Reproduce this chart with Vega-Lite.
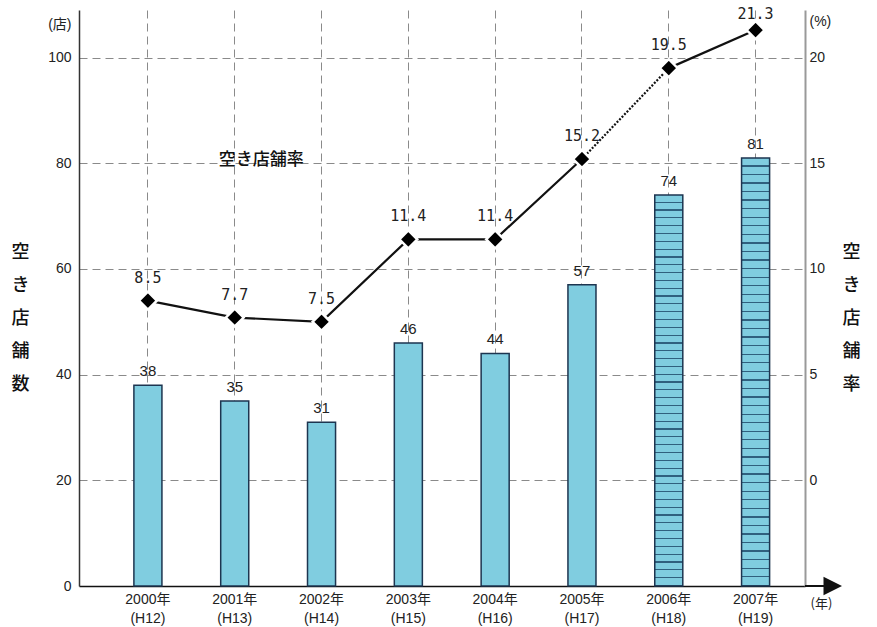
{
  "$schema": "https://vega.github.io/schema/vega-lite/v6.json",
  "width": 726,
  "height": 576,
  "autosize": {"type": "none"},
  "padding": {"left": 79, "top": 10, "right": 72, "bottom": 41},
  "background": "white",
  "config": {"view": {"stroke": null}, "font": "Liberation Sans, Noto Sans CJK JP"},
  "data": {"values": [
    {"period": "2000年|(H12)", "year": 2000, "stores": 38, "rate": 8.5},
    {"period": "2001年|(H13)", "year": 2001, "stores": 35, "rate": 7.7},
    {"period": "2002年|(H14)", "year": 2002, "stores": 31, "rate": 7.5},
    {"period": "2003年|(H15)", "year": 2003, "stores": 46, "rate": 11.4},
    {"period": "2004年|(H16)", "year": 2004, "stores": 44, "rate": 11.4},
    {"period": "2005年|(H17)", "year": 2005, "stores": 57, "rate": 15.2},
    {"period": "2006年|(H18)", "year": 2006, "stores": 74, "rate": 19.5},
    {"period": "2007年|(H19)", "year": 2007, "stores": 81, "rate": 21.3}
  ]},
  "encoding": {
    "x": {
      "field": "period", "type": "nominal", "sort": null,
      "scale": {"type": "band", "paddingInner": 0.677, "paddingOuter": 0.52, "align": 0.608},
      "axis": {
        "labelExpr": "split(datum.label, '|')",
        "labelAngle": 0, "labelLineHeight": 19, "labelPadding": 6,
        "labelFontSize": 14, "labelColor": "#222", "labelFont": "Liberation Sans, Noto Sans CJK JP",
        "bandPosition": 0.5, "ticks": false,
        "domainColor": "#111", "domainWidth": 1.5,
        "grid": true, "gridDash": [8, 5], "gridColor": "#8a8a8a", "gridWidth": 1,
        "title": "(年)", "titleX": 731, "titleY": 17, "titleAlign": "left", "titleBaseline": "middle",
        "titleFontSize": 13, "titleFontWeight": "normal", "titleColor": "#222", "titleFont": "Noto Sans CJK JP"
      }
    }
  },
  "layer": [
    {
      "encoding": {
        "y": {
          "field": "stores", "type": "quantitative",
          "scale": {"domain": [0, 109], "nice": false, "zero": true},
          "axis": {
            "orient": "left",
            "values": [0, 20, 40, 60, 80, 100, 106.3],
            "labelExpr": "datum.value > 101 ? '(店)' : datum.label",
            "labelOverlap": false,
            "grid": true, "gridDash": [8, 5], "gridColor": "#8a8a8a",
            "gridOpacity": {"condition": {"test": "datum.value > 0 && datum.value <= 100", "value": 1}, "value": 0},
            "ticks": false, "domainColor": "#333", "domainWidth": 1.5,
            "labelPadding": 8, "labelFontSize": 14, "labelColor": "#222", "labelFont": "Liberation Sans, Noto Sans CJK JP",
            "title": ["空", "き", "店", "舗", "数"],
            "titleAngle": 0, "titleX": -59, "titleY": 242, "titleBaseline": "middle", "titleAlign": "center",
            "titleLineHeight": 33, "titleFontSize": 18, "titleFont": "Noto Sans CJK JP", "titleFontWeight": 500, "titleColor": "#111"
          }
        }
      },
      "layer": [
        {
          "mark": {"type": "bar", "stroke": "#1d3550", "strokeWidth": 1.5},
          "encoding": {
            "fill": {
              "condition": {
                "test": "datum.year >= 2006",
                "value": {
                  "gradient": "linear", "x1": 0, "y1": 0, "x2": 0, "y2": 1,
                  "stops": [
                    {"offset": 0, "color": "#80cde0"}, {"offset": 0.017, "color": "#80cde0"}, {"offset": 0.017, "color": "#30607e"}, {"offset": 0.02, "color": "#30607e"},
                    {"offset": 0.02, "color": "#80cde0"}, {"offset": 0.037, "color": "#80cde0"}, {"offset": 0.037, "color": "#30607e"}, {"offset": 0.04, "color": "#30607e"},
                    {"offset": 0.04, "color": "#80cde0"}, {"offset": 0.057, "color": "#80cde0"}, {"offset": 0.057, "color": "#30607e"}, {"offset": 0.06, "color": "#30607e"},
                    {"offset": 0.06, "color": "#80cde0"}, {"offset": 0.077, "color": "#80cde0"}, {"offset": 0.077, "color": "#30607e"}, {"offset": 0.08, "color": "#30607e"},
                    {"offset": 0.08, "color": "#80cde0"}, {"offset": 0.097, "color": "#80cde0"}, {"offset": 0.097, "color": "#30607e"}, {"offset": 0.1, "color": "#30607e"},
                    {"offset": 0.1, "color": "#80cde0"}, {"offset": 0.117, "color": "#80cde0"}, {"offset": 0.117, "color": "#30607e"}, {"offset": 0.12, "color": "#30607e"},
                    {"offset": 0.12, "color": "#80cde0"}, {"offset": 0.137, "color": "#80cde0"}, {"offset": 0.137, "color": "#30607e"}, {"offset": 0.14, "color": "#30607e"},
                    {"offset": 0.14, "color": "#80cde0"}, {"offset": 0.157, "color": "#80cde0"}, {"offset": 0.157, "color": "#30607e"}, {"offset": 0.16, "color": "#30607e"},
                    {"offset": 0.16, "color": "#80cde0"}, {"offset": 0.177, "color": "#80cde0"}, {"offset": 0.177, "color": "#30607e"}, {"offset": 0.18, "color": "#30607e"},
                    {"offset": 0.18, "color": "#80cde0"}, {"offset": 0.197, "color": "#80cde0"}, {"offset": 0.197, "color": "#30607e"}, {"offset": 0.2, "color": "#30607e"},
                    {"offset": 0.2, "color": "#80cde0"}, {"offset": 0.217, "color": "#80cde0"}, {"offset": 0.217, "color": "#30607e"}, {"offset": 0.22, "color": "#30607e"},
                    {"offset": 0.22, "color": "#80cde0"}, {"offset": 0.237, "color": "#80cde0"}, {"offset": 0.237, "color": "#30607e"}, {"offset": 0.24, "color": "#30607e"},
                    {"offset": 0.24, "color": "#80cde0"}, {"offset": 0.257, "color": "#80cde0"}, {"offset": 0.257, "color": "#30607e"}, {"offset": 0.26, "color": "#30607e"},
                    {"offset": 0.26, "color": "#80cde0"}, {"offset": 0.277, "color": "#80cde0"}, {"offset": 0.277, "color": "#30607e"}, {"offset": 0.28, "color": "#30607e"},
                    {"offset": 0.28, "color": "#80cde0"}, {"offset": 0.297, "color": "#80cde0"}, {"offset": 0.297, "color": "#30607e"}, {"offset": 0.3, "color": "#30607e"},
                    {"offset": 0.3, "color": "#80cde0"}, {"offset": 0.317, "color": "#80cde0"}, {"offset": 0.317, "color": "#30607e"}, {"offset": 0.32, "color": "#30607e"},
                    {"offset": 0.32, "color": "#80cde0"}, {"offset": 0.337, "color": "#80cde0"}, {"offset": 0.337, "color": "#30607e"}, {"offset": 0.34, "color": "#30607e"},
                    {"offset": 0.34, "color": "#80cde0"}, {"offset": 0.357, "color": "#80cde0"}, {"offset": 0.357, "color": "#30607e"}, {"offset": 0.36, "color": "#30607e"},
                    {"offset": 0.36, "color": "#80cde0"}, {"offset": 0.377, "color": "#80cde0"}, {"offset": 0.377, "color": "#30607e"}, {"offset": 0.38, "color": "#30607e"},
                    {"offset": 0.38, "color": "#80cde0"}, {"offset": 0.397, "color": "#80cde0"}, {"offset": 0.397, "color": "#30607e"}, {"offset": 0.4, "color": "#30607e"},
                    {"offset": 0.4, "color": "#80cde0"}, {"offset": 0.417, "color": "#80cde0"}, {"offset": 0.417, "color": "#30607e"}, {"offset": 0.42, "color": "#30607e"},
                    {"offset": 0.42, "color": "#80cde0"}, {"offset": 0.437, "color": "#80cde0"}, {"offset": 0.437, "color": "#30607e"}, {"offset": 0.44, "color": "#30607e"},
                    {"offset": 0.44, "color": "#80cde0"}, {"offset": 0.457, "color": "#80cde0"}, {"offset": 0.457, "color": "#30607e"}, {"offset": 0.46, "color": "#30607e"},
                    {"offset": 0.46, "color": "#80cde0"}, {"offset": 0.477, "color": "#80cde0"}, {"offset": 0.477, "color": "#30607e"}, {"offset": 0.48, "color": "#30607e"},
                    {"offset": 0.48, "color": "#80cde0"}, {"offset": 0.497, "color": "#80cde0"}, {"offset": 0.497, "color": "#30607e"}, {"offset": 0.5, "color": "#30607e"},
                    {"offset": 0.5, "color": "#80cde0"}, {"offset": 0.517, "color": "#80cde0"}, {"offset": 0.517, "color": "#30607e"}, {"offset": 0.52, "color": "#30607e"},
                    {"offset": 0.52, "color": "#80cde0"}, {"offset": 0.537, "color": "#80cde0"}, {"offset": 0.537, "color": "#30607e"}, {"offset": 0.54, "color": "#30607e"},
                    {"offset": 0.54, "color": "#80cde0"}, {"offset": 0.557, "color": "#80cde0"}, {"offset": 0.557, "color": "#30607e"}, {"offset": 0.56, "color": "#30607e"},
                    {"offset": 0.56, "color": "#80cde0"}, {"offset": 0.577, "color": "#80cde0"}, {"offset": 0.577, "color": "#30607e"}, {"offset": 0.58, "color": "#30607e"},
                    {"offset": 0.58, "color": "#80cde0"}, {"offset": 0.597, "color": "#80cde0"}, {"offset": 0.597, "color": "#30607e"}, {"offset": 0.6, "color": "#30607e"},
                    {"offset": 0.6, "color": "#80cde0"}, {"offset": 0.617, "color": "#80cde0"}, {"offset": 0.617, "color": "#30607e"}, {"offset": 0.62, "color": "#30607e"},
                    {"offset": 0.62, "color": "#80cde0"}, {"offset": 0.637, "color": "#80cde0"}, {"offset": 0.637, "color": "#30607e"}, {"offset": 0.64, "color": "#30607e"},
                    {"offset": 0.64, "color": "#80cde0"}, {"offset": 0.657, "color": "#80cde0"}, {"offset": 0.657, "color": "#30607e"}, {"offset": 0.66, "color": "#30607e"},
                    {"offset": 0.66, "color": "#80cde0"}, {"offset": 0.677, "color": "#80cde0"}, {"offset": 0.677, "color": "#30607e"}, {"offset": 0.68, "color": "#30607e"},
                    {"offset": 0.68, "color": "#80cde0"}, {"offset": 0.697, "color": "#80cde0"}, {"offset": 0.697, "color": "#30607e"}, {"offset": 0.7, "color": "#30607e"},
                    {"offset": 0.7, "color": "#80cde0"}, {"offset": 0.717, "color": "#80cde0"}, {"offset": 0.717, "color": "#30607e"}, {"offset": 0.72, "color": "#30607e"},
                    {"offset": 0.72, "color": "#80cde0"}, {"offset": 0.737, "color": "#80cde0"}, {"offset": 0.737, "color": "#30607e"}, {"offset": 0.74, "color": "#30607e"},
                    {"offset": 0.74, "color": "#80cde0"}, {"offset": 0.757, "color": "#80cde0"}, {"offset": 0.757, "color": "#30607e"}, {"offset": 0.76, "color": "#30607e"},
                    {"offset": 0.76, "color": "#80cde0"}, {"offset": 0.777, "color": "#80cde0"}, {"offset": 0.777, "color": "#30607e"}, {"offset": 0.78, "color": "#30607e"},
                    {"offset": 0.78, "color": "#80cde0"}, {"offset": 0.797, "color": "#80cde0"}, {"offset": 0.797, "color": "#30607e"}, {"offset": 0.8, "color": "#30607e"},
                    {"offset": 0.8, "color": "#80cde0"}, {"offset": 0.817, "color": "#80cde0"}, {"offset": 0.817, "color": "#30607e"}, {"offset": 0.82, "color": "#30607e"},
                    {"offset": 0.82, "color": "#80cde0"}, {"offset": 0.837, "color": "#80cde0"}, {"offset": 0.837, "color": "#30607e"}, {"offset": 0.84, "color": "#30607e"},
                    {"offset": 0.84, "color": "#80cde0"}, {"offset": 0.857, "color": "#80cde0"}, {"offset": 0.857, "color": "#30607e"}, {"offset": 0.86, "color": "#30607e"},
                    {"offset": 0.86, "color": "#80cde0"}, {"offset": 0.877, "color": "#80cde0"}, {"offset": 0.877, "color": "#30607e"}, {"offset": 0.88, "color": "#30607e"},
                    {"offset": 0.88, "color": "#80cde0"}, {"offset": 0.897, "color": "#80cde0"}, {"offset": 0.897, "color": "#30607e"}, {"offset": 0.9, "color": "#30607e"},
                    {"offset": 0.9, "color": "#80cde0"}, {"offset": 0.917, "color": "#80cde0"}, {"offset": 0.917, "color": "#30607e"}, {"offset": 0.92, "color": "#30607e"},
                    {"offset": 0.92, "color": "#80cde0"}, {"offset": 0.937, "color": "#80cde0"}, {"offset": 0.937, "color": "#30607e"}, {"offset": 0.94, "color": "#30607e"},
                    {"offset": 0.94, "color": "#80cde0"}, {"offset": 0.957, "color": "#80cde0"}, {"offset": 0.957, "color": "#30607e"}, {"offset": 0.96, "color": "#30607e"},
                    {"offset": 0.96, "color": "#80cde0"}, {"offset": 0.977, "color": "#80cde0"}, {"offset": 0.977, "color": "#30607e"}, {"offset": 0.98, "color": "#30607e"},
                    {"offset": 0.98, "color": "#80cde0"}, {"offset": 0.997, "color": "#80cde0"}, {"offset": 0.997, "color": "#30607e"}, {"offset": 1, "color": "#30607e"}
                  ]
                }
              },
              "value": "#80cde0"
            }
          }
        },
        {
          "mark": {"type": "text", "baseline": "bottom", "dy": -6, "fontSize": 15, "font": "Liberation Sans", "color": "#222"},
          "encoding": {"text": {"field": "stores", "type": "quantitative"}}
        },
        {
          "data": {"values": [{"mark": "axis arrow"}]},
          "mark": {"type": "point", "shape": "M0,-0.06L1,-0.06L1,-0.5L2,0L1,0.5L1,0.06L0,0.06Z", "size": 1369, "filled": true, "color": "#111", "opacity": 1, "strokeWidth": 0},
          "encoding": {
            "x": {"value": "width"},
            "y": {"value": "height"}
          }
        }
      ]
    },
    {
      "encoding": {
        "y": {
          "field": "rate", "type": "quantitative",
          "scale": {"domain": [-5, 22.25], "nice": false, "zero": false},
          "axis": {
            "orient": "right",
            "values": [0, 5, 10, 15, 20, 21.7],
            "labelExpr": "datum.value > 21 ? '(%)' : datum.label",
            "labelOverlap": false,
            "grid": false, "ticks": false,
            "domainColor": "#999", "domainWidth": 2,
            "labelPadding": 4, "labelFontSize": 14, "labelColor": "#222", "labelFont": "Liberation Sans",
            "title": ["空", "き", "店", "舗", "率"],
            "titleAngle": 0, "titleX": 46, "titleY": 242, "titleBaseline": "middle", "titleAlign": "center",
            "titleLineHeight": 33, "titleFontSize": 18, "titleFont": "Noto Sans CJK JP", "titleFontWeight": 500, "titleColor": "#111"
          }
        }
      },
      "layer": [
        {
          "transform": [{"filter": "datum.year <= 2005"}],
          "mark": {"type": "line", "color": "#111", "strokeWidth": 2.2}
        },
        {
          "transform": [{"filter": "datum.year >= 2005 && datum.year <= 2006"}],
          "mark": {"type": "line", "color": "#111", "strokeWidth": 2.2, "strokeDash": [2, 1.6]}
        },
        {
          "transform": [{"filter": "datum.year >= 2006"}],
          "mark": {"type": "line", "color": "#111", "strokeWidth": 2.2}
        },
        {
          "mark": {"type": "point", "shape": "diamond", "filled": true, "fill": "#000", "stroke": "white", "strokeWidth": 2.5, "size": 320, "opacity": 1}
        },
        {
          "transform": [{"filter": "datum.year < 2007"}],
          "mark": {"type": "text", "baseline": "middle", "dy": -23, "fontSize": 15, "font": "DejaVu Sans Mono", "color": "#222"},
          "encoding": {"text": {"field": "rate", "type": "quantitative", "format": ".1f"}}
        },
        {
          "transform": [{"filter": "datum.year == 2007"}],
          "mark": {"type": "text", "baseline": "middle", "dy": -16, "fontSize": 15, "font": "DejaVu Sans Mono", "color": "#222"},
          "encoding": {"text": {"field": "rate", "type": "quantitative", "format": ".1f"}}
        },
        {
          "data": {"values": [{"label": "空き店舗率", "period": "2001年|(H13)", "rate": 15.15}]},
          "mark": {"type": "text", "align": "left", "baseline": "middle", "dx": -16, "fontSize": 17, "font": "Noto Sans CJK JP", "fontWeight": 500, "color": "#111"},
          "encoding": {"text": {"field": "label", "type": "nominal"}}
        }
      ]
    }
  ],
  "resolve": {"scale": {"y": "independent"}, "axis": {"y": "independent"}}
}
